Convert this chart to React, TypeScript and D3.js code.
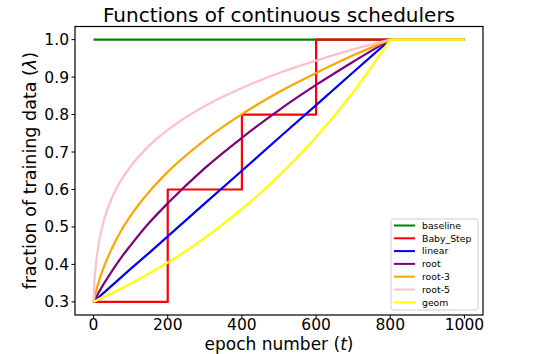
import {curveMonotoneX, line, scaleLinear} from "d3";

const EPOCHS = [0, 2, 5, 10, 25, 50, 75, 100, 150, 200, 300, 400, 500, 600, 700, 800, 1000];

const BASELINE = [1, 1, 1, 1, 1, 1, 1, 1, 1, 1, 1, 1, 1, 1, 1, 1, 1];
const LINEAR = [0.3, 0.302, 0.304, 0.309, 0.322, 0.344, 0.366, 0.388, 0.431, 0.475, 0.563, 0.65, 0.738, 0.825, 0.913, 1, 1];
const ROOT = [0.3, 0.304, 0.309, 0.318, 0.344, 0.383, 0.419, 0.451, 0.511, 0.563, 0.657, 0.738, 0.812, 0.879, 0.941, 1, 1];
const ROOT3 = [0.3, 0.309, 0.321, 0.34, 0.386, 0.444, 0.491, 0.53, 0.594, 0.647, 0.732, 0.801, 0.86, 0.911, 0.958, 1, 1];
const ROOT5 = [0.3, 0.346, 0.387, 0.431, 0.507, 0.579, 0.626, 0.662, 0.717, 0.759, 0.823, 0.871, 0.911, 0.944, 0.974, 1, 1];
const GEOM = [0.3, 0.301, 0.302, 0.305, 0.312, 0.323, 0.336, 0.349, 0.376, 0.405, 0.471, 0.548, 0.637, 0.74, 0.86, 1, 1];

const STEP_EPOCHS = [0, 200, 200, 400, 400, 600, 600, 800];
const STEP_VALUES = [0.3, 0.3, 0.6, 0.6, 0.8, 0.8, 1, 1];

// the schedulers reach full data here; after it every curve is flat
const FULL_EPOCH = 800;

const X_TICKS = [0, 200, 400, 600, 800, 1000];
const Y_TICKS = [0.3, 0.4, 0.5, 0.6, 0.7, 0.8, 0.9, 1.0];

type Series = {name: string; color: string; xs: number[]; ys: number[]; smooth: boolean};

const SERIES: Series[] = [
  {name: "baseline", color: "#008000", xs: EPOCHS, ys: BASELINE, smooth: false},
  {name: "Baby_Step", color: "#ff0000", xs: STEP_EPOCHS, ys: STEP_VALUES, smooth: false},
  {name: "linear", color: "#0000ff", xs: EPOCHS, ys: LINEAR, smooth: false},
  {name: "root", color: "#800080", xs: EPOCHS, ys: ROOT, smooth: true},
  {name: "root-3", color: "#ffa500", xs: EPOCHS, ys: ROOT3, smooth: true},
  {name: "root-5", color: "#ffc0cb", xs: EPOCHS, ys: ROOT5, smooth: true},
  {name: "geom", color: "#ffff00", xs: EPOCHS, ys: GEOM, smooth: true}
];

const FONT = "'DejaVu Sans', sans-serif";

export default function App() {
  const width = 549;
  const height = 354;
  const margins = {top: 26.5, right: 66, bottom: 39, left: 75};
  const innerWidth = width - margins.left - margins.right;
  const innerHeight = height - margins.top - margins.bottom;

  const x = scaleLinear().domain([-50, 1050]).range([0, innerWidth]);
  const y = scaleLinear().domain([0.265, 1.035]).range([innerHeight, 0]);

  const pathFor = (s: Series) => {
    const pts = s.xs.map((xv, i) => [xv, s.ys[i]] as [number, number]);
    const straight = line<[number, number]>()
      .x((d) => x(d[0]))
      .y((d) => y(d[1]));
    if (!s.smooth) return straight(pts) ?? "";
    // smooth rise up to full data, then a straight flat tail
    const rise = pts.filter((d) => d[0] <= FULL_EPOCH);
    const tail = pts.filter((d) => d[0] >= FULL_EPOCH);
    const risePath = straight.curve(curveMonotoneX)(rise) ?? "";
    const tailPath = line<[number, number]>()
      .x((d) => x(d[0]))
      .y((d) => y(d[1]))(tail) ?? "";
    return risePath + tailPath;
  };

  const legend = {x: 391 - margins.left, y: 219 - margins.top, w: 87, h: 91, row: 12.8};

  return (
    <svg
      width={width}
      height={height}
      style={{position: "absolute", left: 0, top: 0, background: "#fff"}}
      fontFamily={FONT}
    >
      <text x={margins.left + innerWidth / 2} y={21.5} textAnchor="middle" fontSize={20}>
        Functions of continuous schedulers
      </text>
      <g transform={`translate(${margins.left},${margins.top})`}>
        <defs>
          <clipPath id="plot-clip">
            <rect x={0} y={0} width={innerWidth} height={innerHeight} />
          </clipPath>
        </defs>
        <g clipPath="url(#plot-clip)">
          {SERIES.map((s) => (
            <path
              key={s.name}
              d={pathFor(s)}
              fill="none"
              stroke={s.color}
              strokeWidth={2.2}
              strokeLinejoin="round"
            />
          ))}
        </g>

        <rect x={0} y={0} width={innerWidth} height={innerHeight} fill="none" stroke="#000" strokeWidth={1.2} />

        {X_TICKS.map((t) => (
          <g key={`x-${t}`} transform={`translate(${x(t)},${innerHeight})`}>
            <line y2={3.5} stroke="#000" strokeWidth={1} />
            <text y={14.5} textAnchor="middle" fontSize={15.5}>
              {t}
            </text>
          </g>
        ))}
        {Y_TICKS.map((t) => (
          <g key={`y-${t}`} transform={`translate(0,${y(t)})`}>
            <line x2={-3.5} stroke="#000" strokeWidth={1} />
            <text x={-6} y={5.5} textAnchor="end" fontSize={15.5}>
              {t.toFixed(1)}
            </text>
          </g>
        ))}

        <g transform={`translate(${legend.x},${legend.y})`}>
          <rect
            width={legend.w}
            height={legend.h}
            rx={2.5}
            fill="#fff"
            fillOpacity={0.8}
            stroke="#cccccc"
            strokeWidth={1}
          />
          {SERIES.map((s, i) => (
            <g key={`leg-${s.name}`} transform={`translate(0,${6.5 + i * legend.row})`}>
              <line x1={3} x2={24} stroke={s.color} strokeWidth={2} />
              <text x={31} y={3.3} fontSize={9.3}>
                {s.name}
              </text>
            </g>
          ))}
        </g>
      </g>

      <text x={margins.left + innerWidth / 2} y={349.5} textAnchor="middle" fontSize={17}>
        epoch number (<tspan fontStyle="italic">t</tspan>)
      </text>
      <text
        transform={`translate(36,${margins.top + innerHeight / 2}) rotate(-90)`}
        textAnchor="middle"
        fontSize={17.5}
      >
        fraction of training data (<tspan fontStyle="italic">λ</tspan>)
      </text>
    </svg>
  );
}
